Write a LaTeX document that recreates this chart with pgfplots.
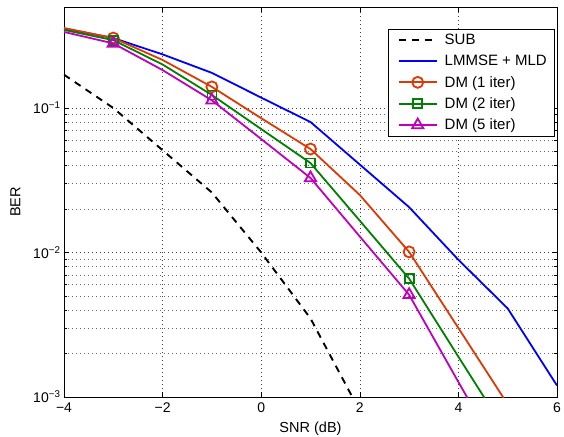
\documentclass[border=0pt]{standalone}
\usepackage{fontspec}
\setmainfont{Liberation Sans}
\usepackage{pgfplots}
\pgfplotsset{compat=1.18}

\definecolor{dmred}{rgb}{0.87,0.22,0.02}
\definecolor{dmgreen}{rgb}{0,0.5,0}
\definecolor{dmmag}{rgb}{0.75,0,0.75}

\begin{document}
\begin{tikzpicture}
\path[use as bounding box] (-64pt,-39pt) rectangle (500pt,397pt);
\begin{axis}[
    at={(0,0)}, anchor=south west,
    scale only axis,
    width=493pt,
    height=390pt,
    ymode=log,
    xmin=-4, xmax=6,
    ymin=1e-3, ymax=0.5,
    xtick={-4,-2,0,2,4,6},
    xticklabels={−4,−2,0,2,4,6},
    ytick={1e-3,1e-2,1e-1},
    yticklabels={10\textsuperscript{−3},10\textsuperscript{−2},10\textsuperscript{−1}},
    xlabel={SNR (dB)},
    ylabel={BER},
    label style={font=\fontsize{14.5}{16}\selectfont},
    ticklabel style={font=\fontsize{14}{16}\selectfont},
    xlabel style={yshift=-3pt},
    ylabel style={yshift=6pt},
    xticklabel style={yshift=-2pt},
    tick align=inside,
    major tick length=5pt,
    minor tick length=3pt,
    axis line style={line width=0.9pt},
    tick style={black, line width=0.6pt},
    grid=both,
    major grid style={black!75, line width=0.5pt, dash pattern=on 0.7pt off 3.3pt},
    minor grid style={black!60, line width=0.5pt, dash pattern=on 0.7pt off 3.3pt},
    clip marker paths=true,
    legend cell align=left,
    legend style={at={(1,1)}, anchor=north east, xshift=-3pt, yshift=-22pt,
        draw=black, font=\fontsize{15}{17}\selectfont,
        inner xsep=5pt, inner ysep=3pt, row sep=5pt},
    legend image code/.code={
        \path (0pt,0pt) (48pt,0pt);
        \draw[line width=1.8pt, mark repeat=2, mark phase=2] plot coordinates {(5pt,0pt) (24pt,0pt) (43pt,0pt)};
    },
]
\addplot[black, line width=1.9pt, dash pattern=on 7pt off 6pt] coordinates {
    (-4,0.17) (-3,0.10) (-2,0.051) (-1,0.026) (0,0.010) (1,0.0035) (2,0.0008)
};
\addlegendentry{SUB}
\addplot[blue, line width=1.8pt] coordinates {
    (-4,0.355) (-3,0.305) (-2,0.235) (-1,0.175) (0,0.118) (1,0.080)
    (2,0.0406) (3,0.0206) (4,0.0089) (5,0.0041) (6,0.0012)
};
\addlegendentry{LMMSE + MLD}
\addplot[dmred, line width=1.8pt, mark=o, mark size=5.5pt, mark repeat=2, mark phase=2] coordinates {
    (-4,0.358) (-3,0.305) (-2,0.215) (-1,0.14) (0,0.085) (1,0.052)
    (2,0.025) (3,0.0101) (4,0.0030) (5,0.00089) (6,0.0002)
};
\addlegendentry{DM (1 iter)}
\addplot[dmgreen, line width=1.8pt, mark=square, mark size=4.5pt, mark repeat=2, mark phase=2] coordinates {
    (-4,0.347) (-3,0.295) (-2,0.20) (-1,0.123) (0,0.0715) (1,0.0416)
    (2,0.0166) (3,0.0066) (4,0.0019) (5,0.00055) (6,0.00015)
};
\addlegendentry{DM (2 iter)}
\addplot[dmmag, line width=1.8pt, mark=triangle, mark size=6.5pt, mark repeat=2, mark phase=2] coordinates {
    (-4,0.336) (-3,0.28) (-2,0.183) (-1,0.113) (0,0.061) (1,0.0328)
    (2,0.0129) (3,0.0051) (4,0.00127) (5,0.00032) (6,0.00008)
};
\addlegendentry{DM (5 iter)}
\end{axis}
\end{tikzpicture}
\end{document}
